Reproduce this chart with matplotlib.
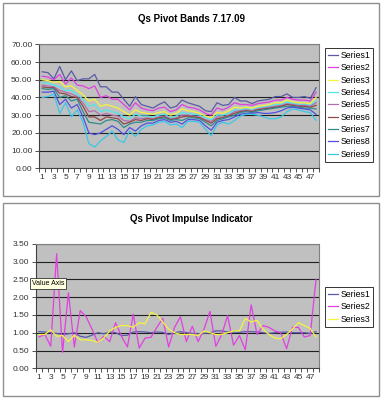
import matplotlib
matplotlib.use("Agg")
import matplotlib.pyplot as plt
from matplotlib.patches import Rectangle
from matplotlib.ticker import FormatStrFormatter, FixedLocator

plt.rcParams["font.family"] = ["Liberation Sans", "DejaVu Sans"]

# ---- data: Qs Pivot Bands 7.17.09 ----
days = list(range(1, 49))
band_names = ["Series1", "Series2", "Series3", "Series4", "Series5",
              "Series6", "Series7", "Series8", "Series9"]
band_s1 = [54.5, 54, 50.5, 57.5, 50, 55, 49.5, 50.5, 50.5, 53, 46, 46, 43, 43, 39, 35,
           40.5, 36, 35, 34, 36, 37.5, 34, 35, 38.5, 37, 36, 35, 32.5, 32, 37, 35.5,
           36, 40, 38, 38, 36.5, 38, 38.5, 39, 40.5, 40.5, 42, 40, 40, 40.5, 39.5, 45.5]
band_s2 = [52, 51.5, 50, 53, 47.5, 51, 47, 46.5, 45, 46.5, 40, 41, 39, 39, 36, 33,
           37, 34, 33, 32.5, 34, 34.5, 32, 33, 36, 34.5, 34, 33, 31, 30, 34, 33,
           34.5, 37, 36, 36, 35.5, 36.5, 37, 37.5, 38.5, 38.5, 40, 39, 38.5, 38.5, 38, 43]
band_s3 = [50, 49.5, 48.5, 49, 46, 46.5, 44, 41.5, 38, 39, 35, 36, 35, 34, 32, 30,
           33, 31.5, 31, 30.5, 31.5, 32, 30, 31, 33.5, 32.5, 32, 31, 29.5, 28.5, 31.5, 31,
           32.5, 34.5, 34, 34.5, 34, 35, 35.5, 36, 37, 37, 38.5, 37.5, 37, 37, 36.5, 40]
band_s4 = [48.5, 48, 47, 46, 44, 44, 41.5, 39, 35, 36, 32, 33, 32, 31, 29, 28,
           30.5, 29.5, 29.5, 29, 30, 30.5, 28.5, 29.5, 31.5, 31, 30.5, 30, 28.5, 27.5, 30, 30,
           31, 33, 33, 33.5, 33, 34, 34.5, 35, 36, 36, 37.5, 36.5, 36, 36, 35.5, 38]
band_s5 = [47, 46.5, 46, 44, 43, 42, 40.5, 37, 32, 32.5, 30, 31, 30, 29.5, 27, 26.5,
           28.5, 28, 28.5, 28, 29, 29.5, 28, 28.5, 30, 30, 29.5, 29, 27.5, 26.5, 29, 29,
           30, 32, 32.5, 33, 32.5, 33.5, 34, 34.5, 35, 35.5, 36.5, 36, 35.5, 35.5, 35, 37]
band_s6 = [46, 45.5, 45.5, 42.5, 42, 40.5, 40, 35, 29, 29, 27, 29, 28.5, 28, 25, 26,
           27.5, 27, 28, 27.5, 28.5, 29, 27.5, 28, 29, 29.5, 29, 28.5, 27, 25.5, 28, 28.5,
           29.5, 31, 32, 32.5, 32, 33, 33.5, 34, 34.5, 35, 36, 35.5, 35, 35, 34.5, 35.5]
band_s7 = [45, 44.5, 45, 40, 41, 38, 39, 32, 26, 25.5, 25, 27, 27.5, 26.5, 23, 25,
           26, 26, 27, 27, 28, 28.5, 27, 27.5, 27, 28.5, 28.5, 28, 26, 24, 27, 28,
           29, 30, 31.5, 32, 31.5, 32.5, 33, 33.5, 34, 34.5, 35, 35, 34.5, 34, 34, 33.5]
band_s8 = [43, 43, 43.5, 36, 39, 34, 36, 29, 20, 19, 20, 22, 24, 22, 19, 23,
           21, 24, 25.5, 25.5, 27, 27.5, 26, 26.5, 25, 27.5, 27.5, 27, 24, 21.5, 26, 27,
           27.5, 29, 30.5, 31, 31, 31.5, 31, 31, 31.5, 32.5, 34, 34.5, 34, 33.5, 33, 30.5]
band_s9 = [40, 40.5, 42, 31, 37, 29, 33, 26, 14, 12, 15.5, 18, 21, 16, 14.5, 21,
           18, 22, 24, 24.5, 26, 26.5, 24.5, 25, 23, 26.5, 26.5, 26, 22, 18.5, 24.5, 26,
           25, 27, 29.5, 30.5, 30.5, 30, 29, 28, 28, 29, 32, 33.5, 33, 32, 31.5, 27]
band_colors = ["#5a5aa8", "#e040e0", "#f4f440", "#50e8e8", "#b070b0",
               "#904848", "#308c8c", "#5050e0", "#38c8e8"]

# ---- data: Qs Pivot Impulse Indicator ----
imp_names = ["Series1", "Series2", "Series3"]
imp_s1 = [1.03, 1.02, 1.0, 0.98, 0.95, 0.97, 1.0, 0.9, 0.87, 0.93, 1.0, 0.97, 1.02, 1.0,
          0.92, 0.93, 1.02, 1.03, 1.02, 1.0, 1.02, 1.01, 0.95, 1.0, 1.03, 1.0, 0.98, 0.97,
          0.98, 1.0, 1.05, 1.05, 1.02, 1.02, 1.01, 1.03, 1.03, 1.02, 1.0, 0.98, 1.0, 1.01,
          1.02, 1.0, 1.0, 1.0, 0.98, 1.03]
imp_s2 = [0.88, 0.95, 0.62, 3.22, 0.45, 2.12, 0.6, 1.62, 1.45, 1.1, 0.72, 0.9, 0.75, 1.28,
          0.9, 0.6, 1.52, 0.57, 0.85, 0.87, 1.15, 1.4, 0.6, 1.15, 1.45, 0.75, 1.18, 0.75,
          1.1, 1.6, 0.62, 0.95, 1.48, 0.65, 0.92, 0.52, 1.78, 0.95, 1.2, 1.15, 1.05, 1.0,
          0.55, 1.15, 1.15, 0.88, 0.92, 2.5]
imp_s3 = [0.95, 0.95, 1.08, 0.9, 0.92, 0.75, 0.93, 0.8, 0.8, 0.78, 0.73, 0.85, 1.05, 1.15,
          1.2, 1.2, 1.15, 1.28, 1.25, 1.57, 1.5, 1.3, 1.1, 1.0, 0.95, 0.95, 0.95, 0.92,
          1.05, 1.0, 0.95, 0.95, 1.0, 1.05, 1.05, 1.4, 1.3, 1.35, 1.1, 0.95, 0.85, 0.83,
          0.95, 1.1, 1.28, 1.2, 1.12, 0.88]
imp_colors = ["#5a5aa8", "#e040e0", "#f4f440"]

W, H = 384, 400


def px_axes(fig, left, top, right, bottom):
    return fig.add_axes([left / W, 1 - bottom / H, (right - left) / W, (bottom - top) / H])


def style_axes(ax, ymax, ystep):
    ax.set_facecolor("#c0c0c0")
    ax.set_xlim(0.5, 48.5)
    ax.set_ylim(0, ymax)
    yt = [i * ystep for i in range(int(round(ymax / ystep)) + 1)]
    ax.set_yticks(yt)
    ax.yaxis.set_major_formatter(FormatStrFormatter("%.2f"))
    ax.set_xticks(list(range(1, 49, 2)))
    ax.set_xticklabels([str(d) for d in range(1, 49, 2)])
    ax.xaxis.set_minor_locator(FixedLocator([d + 0.5 for d in range(0, 49)]))
    ax.tick_params(axis="x", which="major", length=0, pad=4, labelsize=6, colors="#333333")
    ax.tick_params(axis="x", which="minor", length=3, width=0.6, color="#333333")
    ax.tick_params(axis="y", length=3, width=0.6, pad=2, labelsize=6, colors="#333333")
    for y in yt[1:]:
        ax.axhline(y, color="#202020", linewidth=0.8, zorder=1)
    for name in ("top", "right"):
        ax.spines[name].set_color("#808080")
        ax.spines[name].set_linewidth(0.8)
    for name in ("left", "bottom"):
        ax.spines[name].set_color("#404040")
        ax.spines[name].set_linewidth(0.8)


def add_legend(fig, handles, top_px):
    leg = fig.legend(handles=handles, loc="upper left",
                     bbox_to_anchor=(325 / W, 1 - top_px / H),
                     fontsize=6.3, frameon=True, fancybox=False, edgecolor="black",
                     handlelength=1.1, labelspacing=0.38, borderpad=0.35,
                     handletextpad=0.3, borderaxespad=0)
    leg.get_frame().set_linewidth(0.7)
    return leg


fig = plt.figure(figsize=(W / 100, H / 100), dpi=100)

# panel frames
for top, bottom in ((3, 196), (203, 396)):
    fig.patches.append(Rectangle((3 / W, 1 - bottom / H), 376 / W, (bottom - top) / H,
                                 transform=fig.transFigure, fill=False,
                                 edgecolor="#909090", linewidth=1.0))

# top chart
ax1 = px_axes(fig, 39.3, 44.3, 319, 168.3)
style_axes(ax1, 70, 10)
band_series = [band_s1, band_s2, band_s3, band_s4, band_s5,
               band_s6, band_s7, band_s8, band_s9]
lines1 = []
for name, vals, col in zip(band_names, band_series, band_colors):
    ln, = ax1.plot(days, vals, color=col, linewidth=0.9, label=name, zorder=3)
    lines1.append(ln)
fig.text(191.5 / W, 1 - 18.5 / H, "Qs Pivot Bands 7.17.09", ha="center", va="center",
         fontsize=7, fontweight="bold")
add_legend(fig, lines1, 48)

# bottom chart
ax2 = px_axes(fig, 36, 243.7, 319, 368.3)
style_axes(ax2, 3.5, 0.5)
lines2 = []
for name, vals, col in zip(imp_names, [imp_s1, imp_s2, imp_s3], imp_colors):
    ln, = ax2.plot(days, vals, color=col, linewidth=0.9, label=name, zorder=3)
    lines2.append(ln)
fig.text(191.5 / W, 1 - 218.5 / H, "Qs Pivot Impulse Indicator", ha="center", va="center",
         fontsize=7, fontweight="bold")
add_legend(fig, lines2, 287)

# tooltip left on the picture
fig.text(32 / W, 1 - 283.5 / H, "Value Axis", ha="left", va="center", fontsize=5,
         bbox=dict(boxstyle="square,pad=0.25", facecolor="#ffffe1",
                   edgecolor="#333333", linewidth=0.6))

fig.savefig("out.png", dpi=100, facecolor="white")
